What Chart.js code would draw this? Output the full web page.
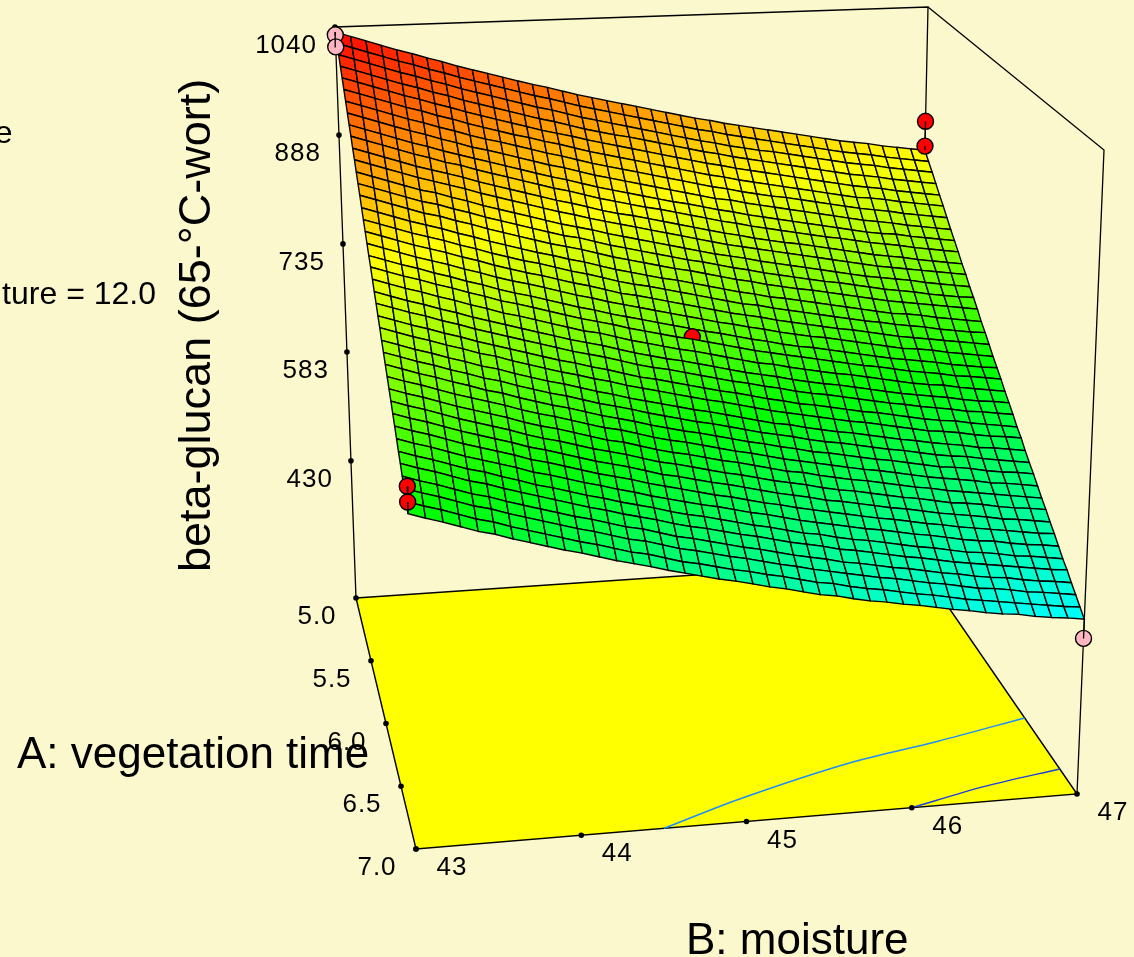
<!DOCTYPE html>
<html lang="en">
<head>
    <meta charset="UTF-8">
    <title>beta-glucan response surface</title>
    <script src="https://cdn.jsdelivr.net/npm/chart.js"></script>
    <style>
        html, body { margin: 0; padding: 0; background-color: #fbf8cd; }
        canvas { display: block; }
    </style>
</head>
<body>
    <canvas id="surfaceChart" width="1134" height="957"></canvas>
    <script>
        // tick labels
        const timeTicks = ['5.0', '5.5', '6.0', '6.5', '7.0'];
        const moistureTicks = ['43', '44', '45', '46', '47'];
        const glucanTicks = ['430', '583', '735', '888', '1040'];

        // design points
        const pointTime = [5, 5, 5, 5, 7, 7, 7];
        const pointMoisture = [43, 43, 47, 47, 43, 43, 47];
        const pointGlucan = [1029, 1012, 874, 838, 675, 656, 431];
        const pointAbove = [false, false, true, true, true, true, false];
        const centerGlucan = 709;

        // contours on the floor
        const contour1Time = [7, 6.816, 6.6, 6.484, 6.35];
        const contour1Moisture = [44.5, 45.02, 45.78, 46.38, 47];
        const contour2Time = [7, 6.878, 6.786];
        const contour2Moisture = [46, 46.49, 47];

        // beta-glucan: one row per time step (5.0 to 7.0), 41 moisture steps (43 to 47)
        const surfaceValues = [
            [1033,1026,1019,1012,1005,999,992,986,979,973,967,961,955,949,944,938,932,927,922,917,912,907,902,897,892,888,883,879,875,871,867,863,859,855,851,848,845,841,838,835,832],
            [1022,1015,1008,1001,994,988,981,975,968,962,956,950,944,938,933,927,921,916,911,906,901,896,891,886,881,877,872,868,864,860,856,852,848,844,840,837,834,830,827,824,821],
            [1011,1004,997,990,983,977,970,964,957,951,945,939,933,927,922,916,910,905,900,895,890,885,880,875,870,866,861,857,853,850,846,842,838,834,830,827,824,820,817,814,811],
            [1000,993,986,979,972,966,959,953,946,940,934,928,922,916,911,905,899,894,889,885,880,875,870,865,860,856,851,847,843,839,835,831,827,823,819,816,813,809,806,803,800],
            [989,982,975,968,961,955,948,942,935,929,923,917,911,905,900,895,889,884,879,874,869,864,859,854,849,845,840,836,832,828,824,820,816,812,808,805,802,798,795,792,789],
            [978,971,964,957,950,944,937,931,924,918,912,906,901,895,890,884,878,873,868,863,858,853,848,843,838,834,829,825,821,817,813,809,805,801,797,795,792,788,785,782,779],
            [967,960,953,946,939,933,926,920,913,907,902,896,890,884,879,873,867,862,857,852,847,842,837,832,827,823,818,814,810,807,803,799,795,791,787,784,781,777,774,771,768],
            [956,949,942,935,928,922,915,909,902,897,891,885,879,873,868,862,856,851,846,841,836,831,826,821,816,813,808,804,800,796,792,788,784,780,776,773,770,766,763,760,757],
            [945,938,931,924,917,911,904,898,892,886,880,874,868,862,857,851,845,840,835,830,825,820,816,811,806,802,797,793,789,785,781,777,773,769,765,762,760,756,753,750,747],
            [935,928,921,914,907,901,894,889,882,876,870,864,858,852,847,841,835,830,825,820,816,811,806,801,796,792,787,783,779,775,771,767,764,760,756,753,750,746,743,740,737],
            [924,917,910,903,896,890,884,878,871,865,859,853,847,841,836,830,824,819,815,810,805,800,795,790,785,781,776,772,768,765,761,757,753,749,745,742,739,735,732,729,726],
            [914,907,900,893,886,880,874,868,861,855,849,843,837,831,826,820,815,810,805,800,795,790,785,780,775,771,767,763,759,755,751,747,743,739,735,732,729,726,723,720,717],
            [903,896,889,882,875,870,863,857,850,844,838,832,826,820,815,810,804,799,794,789,784,779,774,769,765,761,756,752,748,744,740,736,732,728,725,722,719,715,712,709,706],
            [893,886,879,872,865,860,853,847,840,834,828,822,816,810,806,800,794,789,784,779,774,769,765,760,755,751,746,742,738,734,730,727,723,719,715,712,709,705,702,699,697],
            [883,876,869,862,855,850,843,837,830,824,818,812,806,801,796,790,784,779,774,769,764,760,755,750,745,741,736,732,728,725,721,717,713,709,705,702,699,696,693,690,687],
            [872,865,858,851,845,839,832,826,819,813,807,801,796,790,785,779,773,768,763,758,754,749,744,739,734,730,725,722,718,714,710,706,702,698,694,692,689,685,682,679,676],
            [862,855,848,841,835,829,822,816,809,803,797,792,786,780,775,769,763,758,754,749,744,739,734,729,724,721,716,712,708,704,700,696,692,689,685,682,679,675,672,669,667],
            [852,845,838,831,825,819,812,806,799,793,787,782,776,770,765,759,753,749,744,739,734,729,724,719,715,711,706,702,698,694,690,687,683,679,675,672,669,666,663,660,657],
            [842,835,828,821,815,809,802,796,789,783,778,772,766,760,755,749,744,739,734,729,724,719,714,710,705,701,696,692,688,685,681,677,673,669,665,663,660,656,653,650,647],
            [832,825,818,812,805,799,792,786,779,773,768,762,756,750,745,739,734,729,724,719,714,709,705,700,695,691,686,682,679,675,671,667,663,659,656,653,650,646,643,640,638],
            [823,816,809,803,796,790,783,777,770,765,759,753,747,741,736,731,725,720,715,710,706,701,696,691,686,682,678,674,670,666,662,658,655,651,647,644,641,637,635,632,629],
            [813,806,799,793,786,780,773,767,760,755,749,743,737,731,727,721,715,710,705,700,696,691,686,681,676,673,668,664,660,656,653,649,645,641,637,634,632,628,625,622,619],
            [803,796,789,783,776,770,763,757,751,745,739,733,727,722,717,711,705,700,695,691,686,681,676,671,667,663,658,654,650,647,643,639,635,631,628,625,622,618,615,613,610],
            [794,787,780,774,767,761,754,748,742,736,730,724,718,713,708,702,696,691,687,682,677,672,667,663,658,654,649,645,642,638,634,630,626,623,619,616,613,609,607,604,601],
            [784,777,770,764,757,751,744,738,732,726,720,714,709,703,698,692,686,682,677,672,667,662,658,653,648,644,639,636,632,628,624,621,617,613,609,606,604,600,597,594,591],
            [775,768,761,755,748,742,735,730,723,717,711,705,700,694,689,683,678,673,668,663,658,654,649,644,639,635,631,627,623,619,616,612,608,604,600,598,595,591,588,586,583],
            [765,758,751,745,738,732,725,720,713,707,701,696,690,684,679,673,668,663,658,653,649,644,639,634,629,626,621,617,613,610,606,602,598,595,591,588,585,581,579,576,573],
            [756,749,742,736,729,723,716,711,704,698,692,687,681,675,670,665,659,654,649,644,640,635,630,625,621,617,612,608,605,601,597,593,590,586,582,579,577,573,570,567,564],
            [747,740,733,727,720,714,707,702,695,689,683,678,672,666,661,656,650,645,640,636,631,626,621,617,612,608,603,600,596,592,588,585,581,577,573,571,568,564,561,559,556],
            [738,731,725,718,711,705,699,693,686,680,675,669,663,657,653,647,641,636,632,627,622,617,613,608,603,599,595,591,587,583,580,576,572,568,565,562,559,555,553,550,547],
            [729,722,716,709,702,696,690,684,677,671,666,660,654,648,644,638,632,627,623,618,613,609,604,599,594,591,586,582,578,575,571,567,563,560,556,553,550,547,544,541,538],
            [720,713,707,700,693,687,681,675,668,662,657,651,645,640,635,629,623,619,614,609,604,600,595,590,586,582,577,573,570,566,562,558,555,551,547,545,542,538,535,533,530],
            [711,704,698,691,684,678,672,666,659,654,648,642,636,631,626,620,614,610,605,600,596,591,586,581,577,573,568,565,561,557,553,550,546,542,539,536,533,529,527,524,521],
            [702,695,689,682,675,669,663,657,650,645,639,633,627,622,617,611,606,601,596,591,587,582,577,573,568,564,560,556,552,548,545,541,537,534,530,527,524,521,518,515,513],
            [693,686,680,673,666,660,654,648,641,636,630,624,619,613,608,602,597,592,587,583,578,573,569,564,559,555,551,547,543,540,536,532,529,525,521,518,516,512,509,507,504],
            [684,677,671,664,657,652,645,639,632,627,621,615,610,604,599,594,588,583,579,574,569,564,560,555,550,547,542,538,535,531,527,523,520,516,512,510,507,503,501,498,495],
            [676,669,663,656,649,644,637,631,625,619,613,607,602,596,591,586,580,575,571,566,561,557,552,547,543,539,534,531,527,523,519,516,512,508,505,502,499,496,493,490,488],
            [667,660,654,647,640,635,628,622,616,610,604,599,593,587,583,577,571,567,562,557,552,548,543,538,534,530,525,522,518,514,511,507,503,500,496,493,491,487,484,482,479],
            [659,652,646,639,632,627,620,614,608,602,596,591,585,579,575,569,563,559,554,549,545,540,535,531,526,522,518,514,510,507,503,499,496,492,488,486,483,479,477,474,471],
            [650,643,637,630,623,618,611,605,599,593,587,582,576,570,566,560,554,550,545,540,536,531,527,522,517,514,509,505,502,498,494,491,487,483,480,477,474,471,468,465,463],
            [642,635,629,622,615,610,603,597,591,585,580,574,568,563,558,552,547,542,537,533,528,523,519,514,509,506,501,497,494,490,487,483,479,476,472,469,467,463,460,458,455]
        ];

        // value at which the surface colour reaches cyan, green, yellow, red
        const rampValues = [455, 640, 825, 1035];
        const rampColors = [[0, 255, 255], [0, 255, 0], [255, 255, 0], [255, 0, 0]];

        // floor level of the box and its top
        const glucanFloor = 237;
        const glucanTop = 1040;

        // where the corners of the box land on the page
        const box = {
            floor: [[[356, 598], [916, 560]], [[416, 849], [1077, 794]]],
            top: [[[335, 27], [928, 7]], [[400, 184], [1104, 150]]]
        };

        function project(time, moisture, glucan) {
            const u = (time - 5) / 2;
            const v = (moisture - 43) / 4;
            const f = (glucan - glucanFloor) / (glucanTop - glucanFloor);
            const mix = (c, k) => (1 - u) * (1 - v) * c[0][0][k] + (1 - u) * v * c[0][1][k] + u * (1 - v) * c[1][0][k] + u * v * c[1][1][k];
            return {
                x: mix(box.floor, 0) * (1 - f) + mix(box.top, 0) * f,
                y: mix(box.floor, 1) * (1 - f) + mix(box.top, 1) * f
            };
        }

        // mesh rows and columns bunch up slightly toward the back of the view
        function meshTime(row) {
            const u = row / 40;
            return 5 + 2 * (u - 0.12 * u * (1 - u));
        }

        function meshMoisture(col) {
            const v = col / 40;
            return 43 + 4 * (v + 0.027 * v * (1 - v));
        }

        function rampColor(value) {
            let i = 0;
            while (i < rampValues.length - 2 && value > rampValues[i + 1]) i++;
            const t = Math.min(1, Math.max(0, (value - rampValues[i]) / (rampValues[i + 1] - rampValues[i])));
            const c = rampColors[i].map((a, k) => Math.round(a + (rampColors[i + 1][k] - a) * t));
            return `rgb(${c[0]},${c[1]},${c[2]})`;
        }

        function lineSet(points, color, width, tension) {
            return { data: points, showLine: true, fill: false, borderColor: color, borderWidth: width, pointRadius: 0, tension: tension || 0 };
        }

        function dotSet(points, color, radius, borderWidth) {
            return { data: points, showLine: false, backgroundColor: color, borderColor: '#000000', pointBorderWidth: borderWidth, pointRadius: radius };
        }

        function cellSet(row, col) {
            const s = surfaceValues;
            const corners = [
                project(meshTime(row), meshMoisture(col), s[row][col]),
                project(meshTime(row), meshMoisture(col + 1), s[row][col + 1]),
                project(meshTime(row + 1), meshMoisture(col + 1), s[row + 1][col + 1]),
                project(meshTime(row + 1), meshMoisture(col), s[row + 1][col])
            ];
            corners.push(corners[0]);
            const mean = (s[row][col] + s[row][col + 1] + s[row + 1][col + 1] + s[row + 1][col]) / 4;
            return { data: corners, showLine: true, fill: 'shape', backgroundColor: rampColor(mean), borderColor: '#000000', borderWidth: 1.4, pointRadius: 0, tension: 0 };
        }

        // painter's order: first entry is drawn first
        const layers = [];

        // box edges behind everything
        layers.push(lineSet([project(5, 43, glucanFloor), project(5, 43, glucanTop), project(5, 47, glucanTop), project(5, 47, glucanFloor)], '#000000', 1.3));
        layers.push(lineSet([project(5, 47, glucanTop), project(7, 47, glucanTop), project(7, 47, glucanFloor)], '#000000', 1.3));

        // floor
        const floorCorners = [project(5, 43, glucanFloor), project(5, 47, glucanFloor), project(7, 47, glucanFloor), project(7, 43, glucanFloor), project(5, 43, glucanFloor)];
        layers.push({ data: floorCorners, showLine: true, fill: 'shape', backgroundColor: '#ffff00', borderColor: '#000000', borderWidth: 1.4, pointRadius: 0, tension: 0 });
        layers.push(lineSet(contour1Time.map((a, i) => project(a, contour1Moisture[i], glucanFloor)), '#1a8cff', 1.5, 0.3));
        layers.push(lineSet(contour2Time.map((a, i) => project(a, contour2Moisture[i], glucanFloor)), '#1c3fe0', 1.5, 0.3));

        // axis tick dots
        const tickDots = [];
        timeTicks.forEach(t => tickDots.push(project(Number(t), 43, glucanFloor)));
        moistureTicks.forEach(m => tickDots.push(project(7, Number(m), glucanFloor)));
        glucanTicks.forEach(g => tickDots.push(project(5, 43, Number(g))));
        layers.push(dotSet(tickDots, '#000000', 2.8, 0));

        // surface, with the centre point half sunk into it
        const centerIndex = 20;
        for (let row = 0; row < 40; row++) {
            if (row === centerIndex) {
                layers.push(dotSet([project(meshTime(centerIndex), meshMoisture(centerIndex), centerGlucan)], '#ff0000', 8, 1.4));
            }
            for (let col = 0; col < 40; col++) layers.push(cellSet(row, col));
        }

        // corner design points with their stems to the surface
        pointTime.forEach((a, i) => {
            const b = pointMoisture[i];
            const value = surfaceValues[(a - 5) * 20][(b - 43) * 10];
            layers.push(dotSet([project(a, b, pointGlucan[i])], pointAbove[i] ? '#ff0000' : '#ffb6c1', 8, 1.4));
            layers.push(lineSet([project(a, b, pointGlucan[i]), project(a, b, value)], '#000000', 1.3));
        });

        // Chart.js paints the last dataset first
        const datasets = layers.slice().reverse();

        const textPlugin = {
            id: 'boxText',
            afterDraw(chart) {
                const c = chart.ctx;
                const px = chart.scales.x;
                const py = chart.scales.y;
                const put = (text, x, y, align) => {
                    c.textAlign = align;
                    c.fillText(text, px.getPixelForValue(x), py.getPixelForValue(y));
                };
                c.save();
                c.fillStyle = '#000000';
                c.textBaseline = 'middle';

                c.font = '26px "Liberation Sans"';
                c.letterSpacing = '1px';
                timeTicks.forEach(t => {
                    const p = project(Number(t), 43, glucanFloor);
                    put(t, p.x - 39, p.y + 19, 'center');
                });
                moistureTicks.forEach(m => {
                    const p = project(7, Number(m), glucanFloor);
                    put(m, p.x + 36, p.y + 19, 'center');
                });
                glucanTicks.forEach(g => {
                    const p = project(5, 43, Number(g));
                    put(g, p.x - 18, p.y + 19, 'right');
                });
                c.letterSpacing = '0px';

                c.textBaseline = 'alphabetic';
                c.font = '32px "Liberation Sans"';
                put('e', 12.5, 143, 'right');
                put('ture = 12.0', 156, 304, 'right');

                c.font = '44px "Liberation Sans"';
                put('A: vegetation time', 17, 768, 'left');
                put('B: moisture', 686, 954, 'left');

                c.font = '45px "Liberation Sans"';
                c.translate(px.getPixelForValue(210), py.getPixelForValue(572));
                c.rotate(-Math.PI / 2);
                c.textAlign = 'left';
                c.fillText('beta-glucan (65-°C-wort)', 0, 0);
                c.restore();
            }
        };

        new Chart(document.getElementById('surfaceChart'), {
            type: 'scatter',
            data: { datasets: datasets },
            options: {
                responsive: false,
                animation: false,
                events: [],
                layout: { padding: 0, autoPadding: false },
                plugins: { legend: { display: false }, tooltip: { enabled: false } },
                scales: {
                    x: { type: 'linear', min: 0, max: 1134, display: false },
                    y: { type: 'linear', min: 0, max: 957, reverse: true, display: false }
                }
            },
            plugins: [textPlugin]
        });
    </script>
</body>
</html>
